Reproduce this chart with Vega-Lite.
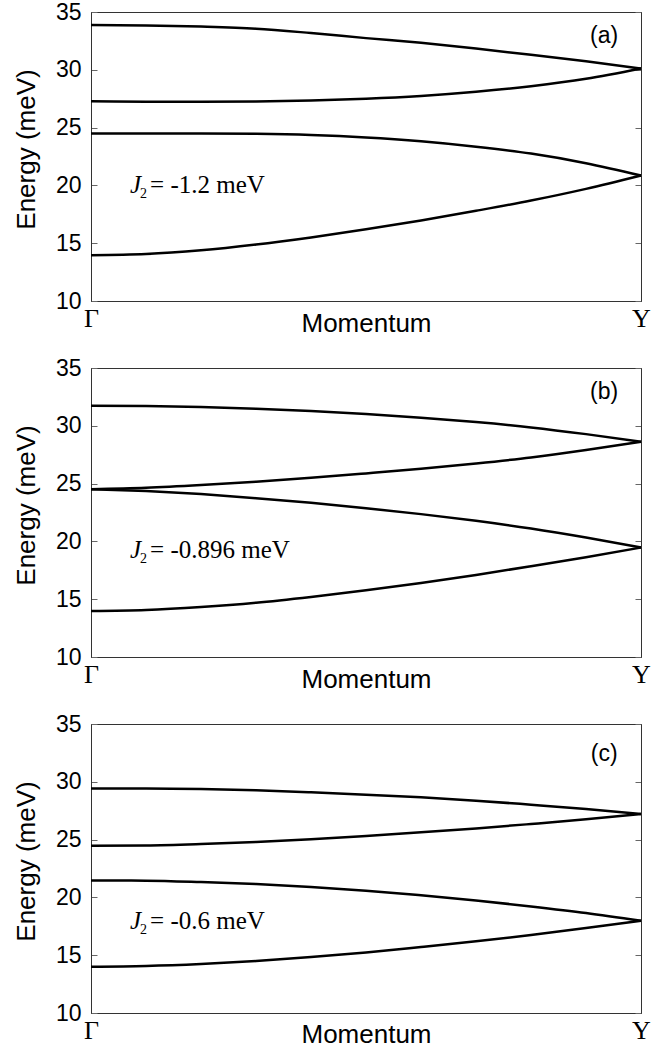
{
  "$schema": "https://vega.github.io/schema/vega-lite/v6.json",
  "background": "white",
  "padding": {"left": 12, "top": 0, "right": 5, "bottom": 0},
  "spacing": 67,
  "bounds": "flush",
  "config": {
    "view": {"stroke": "#333", "strokeWidth": 1},
    "axis": {"grid": false, "labelFont": "Liberation Sans", "titleFont": "Liberation Sans", "labelFontSize": 23, "titleFontSize": 26, "titleFontWeight": "normal", "labelColor": "#000", "titleColor": "#000", "domainColor": "#333", "tickColor": "#666", "labelFlush": false},
    "text": {"fontWeight": "normal", "color": "#000"}
  },
  "datasets": {
    "bands": [
      {"panel":"a","band":1,"k":0,"energy":33.87},{"panel":"a","band":1,"k":0.1,"energy":33.84},{"panel":"a","band":1,"k":0.2,"energy":33.74},{"panel":"a","band":1,"k":0.3,"energy":33.56},{"panel":"a","band":1,"k":0.4,"energy":33.18},{"panel":"a","band":1,"k":0.5,"energy":32.74},{"panel":"a","band":1,"k":0.6,"energy":32.33},{"panel":"a","band":1,"k":0.7,"energy":31.84},{"panel":"a","band":1,"k":0.8,"energy":31.30},{"panel":"a","band":1,"k":0.9,"energy":30.73},{"panel":"a","band":1,"k":1,"energy":30.11},
      {"panel":"a","band":2,"k":0,"energy":27.27},{"panel":"a","band":2,"k":0.1,"energy":27.24},{"panel":"a","band":2,"k":0.2,"energy":27.23},{"panel":"a","band":2,"k":0.3,"energy":27.26},{"panel":"a","band":2,"k":0.4,"energy":27.35},{"panel":"a","band":2,"k":0.5,"energy":27.50},{"panel":"a","band":2,"k":0.6,"energy":27.74},{"panel":"a","band":2,"k":0.7,"energy":28.10},{"panel":"a","band":2,"k":0.8,"energy":28.58},{"panel":"a","band":2,"k":0.9,"energy":29.22},{"panel":"a","band":2,"k":1,"energy":30.11},
      {"panel":"a","band":3,"k":0,"energy":24.49},{"panel":"a","band":3,"k":0.1,"energy":24.49},{"panel":"a","band":3,"k":0.2,"energy":24.49},{"panel":"a","band":3,"k":0.3,"energy":24.46},{"panel":"a","band":3,"k":0.4,"energy":24.36},{"panel":"a","band":3,"k":0.5,"energy":24.15},{"panel":"a","band":3,"k":0.6,"energy":23.82},{"panel":"a","band":3,"k":0.7,"energy":23.35},{"panel":"a","band":3,"k":0.8,"energy":22.75},{"panel":"a","band":3,"k":0.9,"energy":21.92},{"panel":"a","band":3,"k":1,"energy":20.85},
      {"panel":"a","band":4,"k":0,"energy":13.96},{"panel":"a","band":4,"k":0.1,"energy":14.06},{"panel":"a","band":4,"k":0.2,"energy":14.38},{"panel":"a","band":4,"k":0.3,"energy":14.88},{"panel":"a","band":4,"k":0.4,"energy":15.50},{"panel":"a","band":4,"k":0.5,"energy":16.20},{"panel":"a","band":4,"k":0.6,"energy":16.96},{"panel":"a","band":4,"k":0.7,"energy":17.80},{"panel":"a","band":4,"k":0.8,"energy":18.69},{"panel":"a","band":4,"k":0.9,"energy":19.70},{"panel":"a","band":4,"k":1,"energy":20.85},
      {"panel":"b","band":1,"k":0,"energy":31.74},{"panel":"b","band":1,"k":0.1,"energy":31.71},{"panel":"b","band":1,"k":0.2,"energy":31.62},{"panel":"b","band":1,"k":0.3,"energy":31.48},{"panel":"b","band":1,"k":0.4,"energy":31.28},{"panel":"b","band":1,"k":0.5,"energy":31.02},{"panel":"b","band":1,"k":0.6,"energy":30.70},{"panel":"b","band":1,"k":0.7,"energy":30.32},{"panel":"b","band":1,"k":0.8,"energy":29.86},{"panel":"b","band":1,"k":0.9,"energy":29.28},{"panel":"b","band":1,"k":1,"energy":28.62},
      {"panel":"b","band":2,"k":0,"energy":24.52},{"panel":"b","band":2,"k":0.1,"energy":24.64},{"panel":"b","band":2,"k":0.2,"energy":24.87},{"panel":"b","band":2,"k":0.3,"energy":25.16},{"panel":"b","band":2,"k":0.4,"energy":25.50},{"panel":"b","band":2,"k":0.5,"energy":25.88},{"panel":"b","band":2,"k":0.6,"energy":26.28},{"panel":"b","band":2,"k":0.7,"energy":26.74},{"panel":"b","band":2,"k":0.8,"energy":27.26},{"panel":"b","band":2,"k":0.9,"energy":27.90},{"panel":"b","band":2,"k":1,"energy":28.62},
      {"panel":"b","band":3,"k":0,"energy":24.52},{"panel":"b","band":3,"k":0.1,"energy":24.35},{"panel":"b","band":3,"k":0.2,"energy":24.09},{"panel":"b","band":3,"k":0.3,"energy":23.74},{"panel":"b","band":3,"k":0.4,"energy":23.34},{"panel":"b","band":3,"k":0.5,"energy":22.87},{"panel":"b","band":3,"k":0.6,"energy":22.36},{"panel":"b","band":3,"k":0.7,"energy":21.78},{"panel":"b","band":3,"k":0.8,"energy":21.11},{"panel":"b","band":3,"k":0.9,"energy":20.33},{"panel":"b","band":3,"k":1,"energy":19.47},
      {"panel":"b","band":4,"k":0,"energy":13.98},{"panel":"b","band":4,"k":0.1,"energy":14.07},{"panel":"b","band":4,"k":0.2,"energy":14.33},{"panel":"b","band":4,"k":0.3,"energy":14.70},{"panel":"b","band":4,"k":0.4,"energy":15.20},{"panel":"b","band":4,"k":0.5,"energy":15.77},{"panel":"b","band":4,"k":0.6,"energy":16.41},{"panel":"b","band":4,"k":0.7,"energy":17.10},{"panel":"b","band":4,"k":0.8,"energy":17.85},{"panel":"b","band":4,"k":0.9,"energy":18.63},{"panel":"b","band":4,"k":1,"energy":19.47},
      {"panel":"c","band":1,"k":0,"energy":29.43},{"panel":"c","band":1,"k":0.1,"energy":29.43},{"panel":"c","band":1,"k":0.2,"energy":29.38},{"panel":"c","band":1,"k":0.3,"energy":29.26},{"panel":"c","band":1,"k":0.4,"energy":29.09},{"panel":"c","band":1,"k":0.5,"energy":28.89},{"panel":"c","band":1,"k":0.6,"energy":28.66},{"panel":"c","band":1,"k":0.7,"energy":28.37},{"panel":"c","band":1,"k":0.8,"energy":28.02},{"panel":"c","band":1,"k":0.9,"energy":27.65},{"panel":"c","band":1,"k":1,"energy":27.21},
      {"panel":"c","band":2,"k":0,"energy":24.47},{"panel":"c","band":2,"k":0.1,"energy":24.50},{"panel":"c","band":2,"k":0.2,"energy":24.62},{"panel":"c","band":2,"k":0.3,"energy":24.79},{"panel":"c","band":2,"k":0.4,"energy":25.02},{"panel":"c","band":2,"k":0.5,"energy":25.31},{"panel":"c","band":2,"k":0.6,"energy":25.63},{"panel":"c","band":2,"k":0.7,"energy":25.97},{"panel":"c","band":2,"k":0.8,"energy":26.35},{"panel":"c","band":2,"k":0.9,"energy":26.75},{"panel":"c","band":2,"k":1,"energy":27.21},
      {"panel":"c","band":3,"k":0,"energy":21.47},{"panel":"c","band":3,"k":0.1,"energy":21.45},{"panel":"c","band":3,"k":0.2,"energy":21.33},{"panel":"c","band":3,"k":0.3,"energy":21.16},{"panel":"c","band":3,"k":0.4,"energy":20.90},{"panel":"c","band":3,"k":0.5,"energy":20.58},{"panel":"c","band":3,"k":0.6,"energy":20.18},{"panel":"c","band":3,"k":0.7,"energy":19.74},{"panel":"c","band":3,"k":0.8,"energy":19.22},{"panel":"c","band":3,"k":0.9,"energy":18.65},{"panel":"c","band":3,"k":1,"energy":17.98},
      {"panel":"c","band":4,"k":0,"energy":14.00},{"panel":"c","band":4,"k":0.1,"energy":14.06},{"panel":"c","band":4,"k":0.2,"energy":14.23},{"panel":"c","band":4,"k":0.3,"energy":14.49},{"panel":"c","band":4,"k":0.4,"energy":14.84},{"panel":"c","band":4,"k":0.5,"energy":15.24},{"panel":"c","band":4,"k":0.6,"energy":15.71},{"panel":"c","band":4,"k":0.7,"energy":16.20},{"panel":"c","band":4,"k":0.8,"energy":16.74},{"panel":"c","band":4,"k":0.9,"energy":17.35},{"panel":"c","band":4,"k":1,"energy":17.98}
    ]
  },
  "vconcat": [
    {
      "width": 550, "height": 289,
      "layer": [
        {"data": {"name": "bands"},
         "transform": [{"filter": "datum.panel === 'a'"}],
         "mark": {"type": "line", "color": "black", "strokeWidth": 2.5, "interpolate": "monotone"},
         "encoding": {
           "x": {"field": "k", "type": "quantitative", "scale": {"domain": [0, 1], "nice": false}, "axis": {"values": [0, 1], "labelExpr": "datum.value == 0 ? 'Γ' : 'Y'", "labelFont": "Liberation Serif", "labelFontSize": 26, "ticks": false, "labelPadding": 4, "title": "Momentum", "titleY": 30, "titleBaseline": "alphabetic"}},
           "y": {"field": "energy", "type": "quantitative", "scale": {"domain": [10, 35], "nice": false}, "axis": {"values": [10, 15, 20, 25, 30, 35], "tickSize": -6, "labelPadding": 16, "title": "Energy (meV)", "titleX": -78, "titleY": 137, "titleBaseline": "top"}},
           "detail": {"field": "band", "type": "nominal"}
         }},
        {"data": {"name": "bands"},
         "transform": [{"filter": "datum.panel === 'a'"}],
         "mark": {"type": "point", "opacity": 0},
         "encoding": {
           "x": {"field": "k", "type": "quantitative"},
           "y": {"field": "energy", "type": "quantitative", "axis": {"orient": "right", "values": [10, 15, 20, 25, 30, 35], "labels": false, "tickSize": -6, "title": null}}
         }},
        {"data": {"values": [{}]},
         "mark": {"type": "text", "text": "(a)", "font": "Liberation Sans", "fontSize": 23},
         "encoding": {"x": {"datum": 0.933}, "y": {"datum": 32.95, "axis": null}}},
        {"data": {"values": [{}]},
         "mark": {"type": "text", "text": "J", "font": "Liberation Serif", "fontStyle": "italic", "fontSize": 25, "align": "left", "baseline": "alphabetic"},
         "encoding": {"x": {"datum": 0.071}, "y": {"datum": 19.34, "axis": null}}},
        {"data": {"values": [{}]},
         "mark": {"type": "text", "text": "2", "font": "Liberation Serif", "fontSize": 14, "align": "left", "baseline": "alphabetic", "dx": 10, "dy": 5},
         "encoding": {"x": {"datum": 0.071}, "y": {"datum": 19.34, "axis": null}}},
        {"data": {"values": [{}]},
         "mark": {"type": "text", "text": "= -1.2 meV", "font": "Liberation Serif", "fontSize": 25, "align": "left", "baseline": "alphabetic", "dx": 20},
         "encoding": {"x": {"datum": 0.071}, "y": {"datum": 19.34, "axis": null}}}
      ],
      "resolve": {"axis": {"y": "independent"}}
    },
    {
      "width": 550, "height": 289,
      "layer": [
        {"data": {"name": "bands"},
         "transform": [{"filter": "datum.panel === 'b'"}],
         "mark": {"type": "line", "color": "black", "strokeWidth": 2.5, "interpolate": "monotone"},
         "encoding": {
           "x": {"field": "k", "type": "quantitative", "scale": {"domain": [0, 1], "nice": false}, "axis": {"values": [0, 1], "labelExpr": "datum.value == 0 ? 'Γ' : 'Y'", "labelFont": "Liberation Serif", "labelFontSize": 26, "ticks": false, "labelPadding": 4, "title": "Momentum", "titleY": 30, "titleBaseline": "alphabetic"}},
           "y": {"field": "energy", "type": "quantitative", "scale": {"domain": [10, 35], "nice": false}, "axis": {"values": [10, 15, 20, 25, 30, 35], "tickSize": -6, "labelPadding": 16, "title": "Energy (meV)", "titleX": -78, "titleY": 137, "titleBaseline": "top"}},
           "detail": {"field": "band", "type": "nominal"}
         }},
        {"data": {"name": "bands"},
         "transform": [{"filter": "datum.panel === 'b'"}],
         "mark": {"type": "point", "opacity": 0},
         "encoding": {
           "x": {"field": "k", "type": "quantitative"},
           "y": {"field": "energy", "type": "quantitative", "axis": {"orient": "right", "values": [10, 15, 20, 25, 30, 35], "labels": false, "tickSize": -6, "title": null}}
         }},
        {"data": {"values": [{}]},
         "mark": {"type": "text", "text": "(b)", "font": "Liberation Sans", "fontSize": 23},
         "encoding": {"x": {"datum": 0.933}, "y": {"datum": 32.9, "axis": null}}},
        {"data": {"values": [{}]},
         "mark": {"type": "text", "text": "J", "font": "Liberation Serif", "fontStyle": "italic", "fontSize": 25, "align": "left", "baseline": "alphabetic"},
         "encoding": {"x": {"datum": 0.071}, "y": {"datum": 18.6, "axis": null}}},
        {"data": {"values": [{}]},
         "mark": {"type": "text", "text": "2", "font": "Liberation Serif", "fontSize": 14, "align": "left", "baseline": "alphabetic", "dx": 10, "dy": 5},
         "encoding": {"x": {"datum": 0.071}, "y": {"datum": 18.6, "axis": null}}},
        {"data": {"values": [{}]},
         "mark": {"type": "text", "text": "= -0.896 meV", "font": "Liberation Serif", "fontSize": 25, "align": "left", "baseline": "alphabetic", "dx": 20},
         "encoding": {"x": {"datum": 0.071}, "y": {"datum": 18.6, "axis": null}}}
      ],
      "resolve": {"axis": {"y": "independent"}}
    },
    {
      "width": 550, "height": 289,
      "layer": [
        {"data": {"name": "bands"},
         "transform": [{"filter": "datum.panel === 'c'"}],
         "mark": {"type": "line", "color": "black", "strokeWidth": 2.5, "interpolate": "monotone"},
         "encoding": {
           "x": {"field": "k", "type": "quantitative", "scale": {"domain": [0, 1], "nice": false}, "axis": {"values": [0, 1], "labelExpr": "datum.value == 0 ? 'Γ' : 'Y'", "labelFont": "Liberation Serif", "labelFontSize": 26, "ticks": false, "labelPadding": 4, "title": "Momentum", "titleY": 29, "titleBaseline": "alphabetic"}},
           "y": {"field": "energy", "type": "quantitative", "scale": {"domain": [10, 35], "nice": false}, "axis": {"values": [10, 15, 20, 25, 30, 35], "tickSize": -6, "labelPadding": 16, "title": "Energy (meV)", "titleX": -78, "titleY": 137, "titleBaseline": "top"}},
           "detail": {"field": "band", "type": "nominal"}
         }},
        {"data": {"name": "bands"},
         "transform": [{"filter": "datum.panel === 'c'"}],
         "mark": {"type": "point", "opacity": 0},
         "encoding": {
           "x": {"field": "k", "type": "quantitative"},
           "y": {"field": "energy", "type": "quantitative", "axis": {"orient": "right", "values": [10, 15, 20, 25, 30, 35], "labels": false, "tickSize": -6, "title": null}}
         }},
        {"data": {"values": [{}]},
         "mark": {"type": "text", "text": "(c)", "font": "Liberation Sans", "fontSize": 23},
         "encoding": {"x": {"datum": 0.933}, "y": {"datum": 32.4, "axis": null}}},
        {"data": {"values": [{}]},
         "mark": {"type": "text", "text": "J", "font": "Liberation Serif", "fontStyle": "italic", "fontSize": 25, "align": "left", "baseline": "alphabetic"},
         "encoding": {"x": {"datum": 0.071}, "y": {"datum": 17.24, "axis": null}}},
        {"data": {"values": [{}]},
         "mark": {"type": "text", "text": "2", "font": "Liberation Serif", "fontSize": 14, "align": "left", "baseline": "alphabetic", "dx": 10, "dy": 5},
         "encoding": {"x": {"datum": 0.071}, "y": {"datum": 17.24, "axis": null}}},
        {"data": {"values": [{}]},
         "mark": {"type": "text", "text": "= -0.6 meV", "font": "Liberation Serif", "fontSize": 25, "align": "left", "baseline": "alphabetic", "dx": 20},
         "encoding": {"x": {"datum": 0.071}, "y": {"datum": 17.24, "axis": null}}}
      ],
      "resolve": {"axis": {"y": "independent"}}
    }
  ]
}
